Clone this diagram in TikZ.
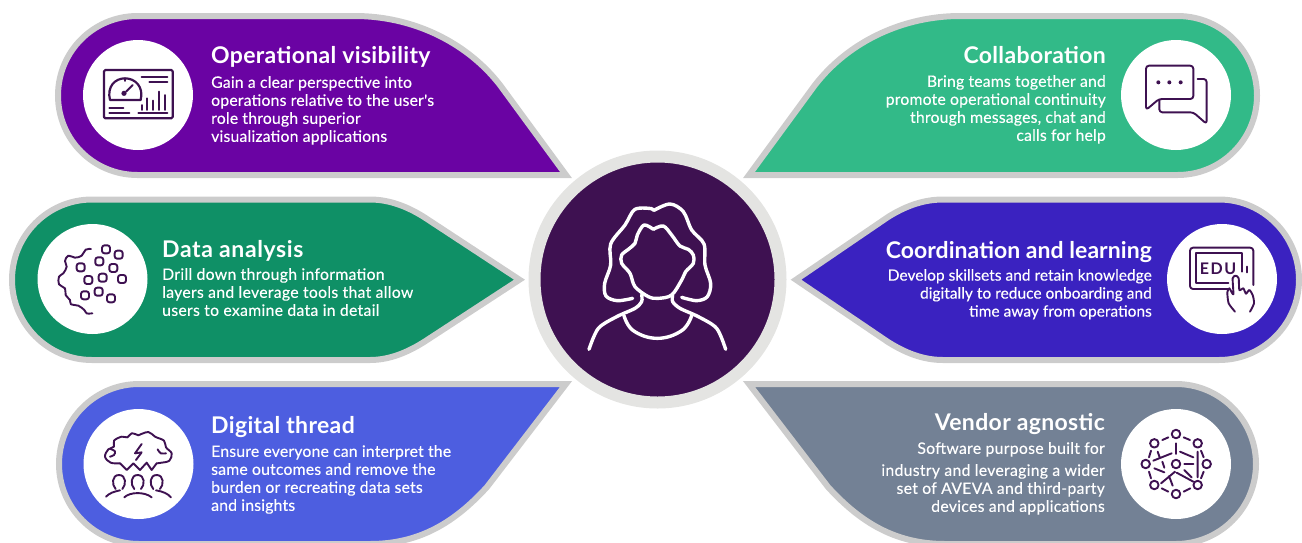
\documentclass[tikz,border=0pt]{standalone}
\usepackage{fontspec}
\setmainfont{Lato}
\newfontfamily\bodyface[FakeBold=0.2,LetterSpace=1.1]{Lato}
\newfontfamily\bodytight[FakeBold=0.2,LetterSpace=0.1]{Lato}
\newfontfamily\bodywide[FakeBold=0.2,LetterSpace=1.8]{Lato}
\newfontfamily\headface[LetterSpace=1.5]{Lato Bold}
\newfontfamily\headtight[LetterSpace=0.2]{Lato Bold}
\newfontfamily\headwide[LetterSpace=2.6]{Lato Bold}
\definecolor{dk}{HTML}{3E1151}
\definecolor{edge}{HTML}{CCCCCC}
\definecolor{ring}{HTML}{E4E4E2}
\definecolor{cpurple}{HTML}{6A03A3}
\definecolor{cgreen}{HTML}{0F9066}
\definecolor{cblue}{HTML}{4D5EE0}
\definecolor{cteal}{HTML}{32BA88}
\definecolor{cindigo}{HTML}{3A22C0}
\definecolor{cslate}{HTML}{738195}
\tikzset{
  petal/.style={draw=edge,line width=6pt,line join=miter,fill=#1},
  disc/.style={circle,fill=white,minimum size=110pt,inner sep=0pt},
  ico/.style={draw=dk,line width=1.9pt,line cap=round,line join=round},
  person/.style={draw=white,line width=3.4pt,line cap=round,line join=round},
  headl/.style={text=white,inner sep=0pt,anchor=base west,font=\fontsize{23}{24}\headface},
  headr/.style={text=white,inner sep=0pt,anchor=base east,font=\fontsize{23}{24}\headface},
  bodyl/.style={text=white,inner sep=0pt,anchor=north west,align=left,font=\fontsize{15.8}{18}\bodyface},
  bodyr/.style={text=white,inner sep=0pt,anchor=north east,align=right,font=\fontsize{15.8}{18}\bodyface},
}
\begin{document}
\begin{tikzpicture}[x=1pt,y=-1pt]
\useasboundingbox (0,0) rectangle (1302,542);
\clip (0,0) rectangle (1302,542);
% petals
\draw[petal=cpurple] (566,175) -- (137.5,175) .. controls (93.5,175) and (58,139.5) .. (58,95.5) .. controls (58,51.5) and (93.5,16) .. (137.5,16) -- (355,16) .. controls (410,16) and (465,40) .. (500,85) -- cycle;
\draw[petal=cteal] (749,175) -- (1177.5,175) .. controls (1221.5,175) and (1257,139.5) .. (1257,95.5) .. controls (1257,51.5) and (1221.5,16) .. (1177.5,16) -- (960,16) .. controls (905,16) and (850,40) .. (815,85) -- cycle;
\draw[petal=cgreen] (519.5,279.7) -- (424,342) .. controls (408,352) and (390,360) .. (370,360) -- (92,360) .. controls (47.8,360) and (12,324) .. (12,279.7) .. controls (12,235.5) and (47.8,199.5) .. (92,199.5) -- (370,199.5) .. controls (390,199.5) and (408,207) .. (424,217) -- cycle;
\draw[petal=cindigo] (796,279.7) -- (888,342) .. controls (904,352) and (922,360) .. (943,360) -- (1219,360) .. controls (1263,360) and (1299,324) .. (1299,279.7) .. controls (1299,235.5) and (1263,199.5) .. (1219,199.5) -- (943,199.5) .. controls (922,199.5) and (904,207) .. (888,217) -- cycle;
\draw[petal=cblue] (566,384) -- (139,384) .. controls (95,384) and (59,420) .. (59,464) .. controls (59,508) and (95,544) .. (139,544) -- (370,544) .. controls (420,544) and (455,522) .. (487,487) -- cycle;
\draw[petal=cslate] (749,384) -- (1176,384) .. controls (1220,384) and (1256,420) .. (1256,464) .. controls (1256,508) and (1220,544) .. (1176,544) -- (945,544) .. controls (895,544) and (860,522) .. (828,487) -- cycle;
% discs
\node[disc] (d1) at (138,95) {};
\node[disc] (d2) at (92.5,279) {};
\node[disc] (d3) at (138.5,464) {};
\node[disc] (d4) at (1176,95) {};
\node[disc] (d5) at (1222,279) {};
\node[disc] (d6) at (1176,464) {};
% centre
\node[circle,fill=dk,draw=ring,line width=12pt,minimum size=246pt,inner sep=0pt] (hub) at (657.5,279.5) {};
\begin{scope}[shift={(520,140)},x=0.33333pt,y=-0.33333pt]
\draw[person] plot[smooth,tension=0.55] coordinates {(338,475)(292,482)(258,468)(254,430)(272,375)(272,312)(315,255)(345,208)(395,206)};
\draw[person] (395,206) -- (402,211);
\draw[person] plot[smooth,tension=0.55] coordinates {(402,211)(450,192)(490,215)(515,270)(552,312)(555,375)(572,430)(562,470)(530,482)(485,472)};
\draw[person] plot[smooth,tension=0.55] coordinates {(400,268)(372,255)(352,285)(345,310)(325,328)(305,345)(305,370)(330,400)(345,440)(385,470)(415,475)(455,465)(485,420)(497,395)(520,370)(520,345)(505,328)(480,318)(455,285)(430,258)(400,268)};
\draw[person] plot[smooth,tension=0.5] coordinates {(365,464)(365,485)(345,505)(290,530)(235,565)(207,628)};
\draw[person] plot[smooth,tension=0.5] coordinates {(458,466)(458,485)(480,505)(535,530)(590,565)(617,628)};
\draw[person] plot[smooth,tension=0.7] coordinates {(312,527)(340,572)(412,595)(485,572)(515,527)};
\end{scope}
% icon 1 dashboard
\begin{scope}[shift={(90,50)},x=0.33333pt,y=-0.33333pt]
\draw[ico,line width=2.2pt] (46,60) -- (244,60) -- (248,64) -- (248,201) -- (244,205) -- (46,205) -- (42,201) -- (42,64) -- cycle;
\draw[ico,line width=2.2pt] (60,150) .. controls (50,110) and (75,85) .. (105,85) .. controls (135,85) and (162,110) .. (152,150) -- cycle;
\draw[ico] (105,85) -- (105,93) (128,105) -- (108,125);
\fill[dk] (102,130) circle (2.6pt);
\draw[ico] (155,80) -- (232,80) (178,97) -- (232,97);
\draw[ico] (155,165) -- (155,180) (172,145) -- (172,180) (188,152) -- (188,180) (206,125) -- (206,180) (224,135) -- (224,180);
\draw[ico] (58,175) -- (100,175) (58,190) -- (118,190) (145,190) -- (232,190);
\end{scope}
% icon 2 particles
\begin{scope}[shift={(45,235)},x=0.33333pt,y=-0.33333pt]
\draw[ico] plot[smooth,tension=0.6] coordinates {(138,42)(122,44)(110,62)(90,68)(70,62)(60,78)(65,95)(55,115)(42,125)(42,148)(60,160)(62,180)(75,195)(78,208)(100,212)(118,225)(125,235)(142,235)};
\foreach \p in {(183,43),(221,59),(163,79),(205,99),(107,97),(130,135),(173,128),(231,132),(120,181),(161,170),(198,190)}
  \node[ico,rectangle,rounded corners=2.5pt,minimum size=8pt,inner sep=0pt] at \p {};
\end{scope}
% icon 3 brain
\begin{scope}[shift={(90,420)},x=0.33333pt,y=-0.33333pt]
\draw[ico] plot[smooth,tension=0.6] coordinates {(90,130)(62,128)(45,110)(55,88)(72,80)(72,62)(95,50)(112,52)(125,40)(145,46)};
\draw[ico] plot[smooth,tension=0.6] coordinates {(145,46)(175,36)(195,50)(222,62)(228,82)(245,100)(238,122)(215,128)(200,130)};
\draw[ico] (90,130) -- (110,150) -- (130,130) -- (150,150) -- (170,128) -- (185,150) -- (200,130);
\draw[ico] plot[smooth] coordinates {(60,86)(75,94)(72,105)(60,110)};
\draw[ico] plot[smooth] coordinates {(203,88)(212,100)(228,100)};
\draw[ico] (155,72) -- (135,100) -- (155,97) -- (138,120);
\foreach \c in {87,143,200}{
  \draw[ico] (\c-10,207) .. controls (\c-22,195) and (\c-22,165) .. (\c,165) .. controls (\c+22,165) and (\c+22,195) .. (\c+10,207);
}
\draw[ico] (48,230) .. controls (58,220) and (70,215) .. (90,211);
\draw[ico] (103,232) .. controls (120,215) and (165,215) .. (185,232);
\draw[ico] (198,211) .. controls (220,215) and (232,220) .. (243,232);
\end{scope}
% icon 4 chat
\begin{scope}[shift={(1115,55)},x=0.33333pt,y=-0.33333pt]
\draw[ico,rounded corners=3pt] (93,165) -- (93,32) -- (235,32) -- (235,132) -- (132,132) -- cycle;
\fill[dk] (130,82) circle (2pt) (163,82) circle (2pt) (197,82) circle (2pt);
\draw[ico,rounded corners=3pt] (248,72) -- (275,72) -- (275,207) -- (235,172) -- (133,172) -- (133,135);
\end{scope}
% icon 5 EDU
\begin{scope}[shift={(1170,235)},x=0.33333pt,y=-0.33333pt]
\draw[ico,rounded corners=3pt] (178,162) -- (60,162) -- (60,38) -- (250,38) -- (250,150);
\draw[ico] (175,145) -- (78,145) -- (78,55) -- (215,55) -- (215,110);
\draw[ico] (232,95) -- (232,112);
\node[text=dk,inner sep=0pt,font=\fontsize{16}{16}\selectfont\bfseries] (edu) at (144,100) {E\kern1.5pt D\kern1.5pt U};
\draw[ico,fill=white] plot[smooth,tension=0.4] coordinates {(195,230)(176,205)(172,172)(178,160)(190,178)(188,130)(197,122)(206,130)(208,165)(220,160)(228,176)(238,165)(248,180)(252,205)(240,230)};
\end{scope}
% icon 6 network
\begin{scope}[shift={(1125,420)},x=0.33333pt,y=-0.33333pt]
\foreach \p in {(153,42),(88,70),(218,70),(62,132),(153,132),(245,132),(88,195),(218,195),(153,222)}
  \node[ico,circle,minimum size=8.5pt,inner sep=0pt] at \p {};
\draw[ico] (112,60) -- (130,52) (176,52) -- (195,60) (78,92) -- (72,112) (228,92) -- (236,112) (72,155) -- (78,175) (236,155) -- (228,175) (110,205) -- (130,215) (176,215) -- (196,205);
\draw[ico] (153,70) -- (153,102) (85,122) -- (140,100) (165,95) -- (205,112) (98,95) -- (104,112) (218,95) -- (218,172) (178,132) -- (205,132) (88,145) -- (118,157) (112,125) -- (118,143) (108,190) -- (150,155) (155,158) -- (205,185) (178,150) -- (200,172) (132,168) -- (143,197);
\end{scope}
% text
\node[headl] (t1) at (211,63) {Operational visibility};
\node[bodyl] (b1) at (211,76) {Gain a clear perspective into\\operations relative to the user's\\role through superior\\visualization applications};
\node[headl,font=\fontsize{23}{24}\headwide] (t2) at (162,257) {Data analysis};
\node[bodyl,font=\fontsize{15.8}{18}\bodywide] (b2) at (162,268) {Drill down through information\\layers and leverage tools that allow\\users to examine data in detail};
\node[headl] (t3) at (211,433) {Digital thread};
\node[bodyl] (b3) at (211,445) {Ensure everyone can interpret the\\same outcomes and remove the\\burden or recreating data sets\\and insights};
\node[headr] (t4) at (1106,63) {Collaboration};
\node[bodyr] (b4) at (1106,75) {Bring teams together and\\promote operational continuity\\through messages, chat and\\calls for help};
\node[headr,font=\fontsize{23}{24}\headtight] (t5) at (1152,258) {Coordination and learning};
\node[bodyr,font=\fontsize{15.5}{18}\bodytight] (b5) at (1152,269) {Develop skillsets and retain knowledge\\digitally to reduce onboarding and\\time away from operations};
\node[headr] (t6) at (1105,430) {Vendor agnostic};
\node[bodyr,font=\fontsize{15.8}{18}\bodywide] (b6) at (1105,442) {Software purpose built for\\[4pt]industry and leveraging a wider\\set of AVEVA and third-party\\devices and applications};
\end{tikzpicture}
\end{document}
